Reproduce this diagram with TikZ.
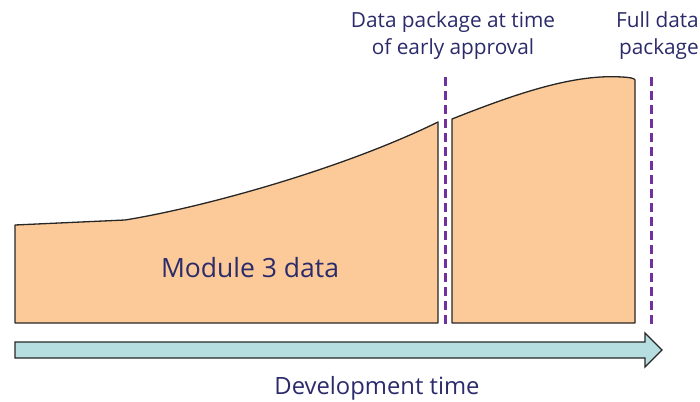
\documentclass[tikz,border=0pt]{standalone}
\usepackage{fontspec}
\setmainfont{Open Sans}
\definecolor{peach}{HTML}{FCCA98}
\definecolor{teal}{HTML}{B6DEE0}
\definecolor{plum}{HTML}{7030A0}
\definecolor{ink}{HTML}{2B2B6B}
\begin{document}
\begin{tikzpicture}[x=1pt,y=-1pt,
  datablock/.style={fill=peach,draw=black!85,line width=1.3pt,line join=round},
  marker/.style={draw=plum,line width=3pt,dash pattern=on 9pt off 5pt},
  label/.style={text=ink,inner sep=0pt,font=\fontsize{20.8}{27}\selectfont,align=center}]
\useasboundingbox (0,0) rectangle (700,401);

% data accumulated up to early approval
\draw[datablock] (15,323) -- (15,225) -- (125,220)
  .. controls (200,208) and (340,170) .. (438,122) -- (438,323) -- cycle;
% data collected after early approval
\draw[datablock] (452,323) -- (452,119)
  .. controls (520,92) and (575,74) .. (622,77)
  .. controls (630,77.5) and (634,78) .. (635,80) -- (635,323) -- cycle;

% milestone markers
\coordinate (m1top) at (445,77);
\coordinate (m1bot) at (445,326);
\coordinate (m2top) at (651,77);
\coordinate (m2bot) at (651,326);
\draw[marker] (m1top) -- (m1bot);
\draw[marker] (m2top) -- (m2bot);

% time axis
\draw[fill=teal,draw=black!85,line width=1.3pt,line join=miter]
  (15,342) -- (645,342) -- (645,333) -- (662,350) -- (645,367) -- (645,358) -- (15,358) -- cycle;

\node[label,font=\fontsize{26.5}{30}\selectfont] (module) at (250,268) {Module 3 data};
\node[label,font=\fontsize{23.8}{28}\selectfont] (axis) at (377,388) {Development time};
\node[label] (early) at (453,36) {Data package at time\\of early approval};
\node[label,align=right,anchor=east] (full) at (699,36) {Full data\\package};
\end{tikzpicture}
\end{document}
